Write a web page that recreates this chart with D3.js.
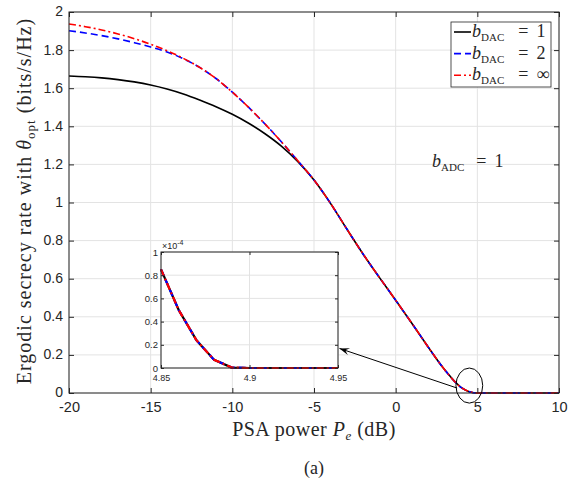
<!DOCTYPE html>
<html>
<head>
<meta charset="utf-8">
<title>Ergodic secrecy rate vs PSA power</title>
<script src="https://d3js.org/d3.v7.min.js"></script>
<style>
  body { margin: 0; background: #fff; }
  .tick text { font-family: "Liberation Sans", Arial, sans-serif; fill: #262626; }
  .serif { font-family: "Liberation Serif", "DejaVu Serif", serif; fill: #262626; }
</style>
</head>
<body>
<div id="chart"></div>
<script>
// ---- values ----
const pe = [-20, -19, -18, -17, -16, -15, -14, -13, -12, -11, -10, -9, -8, -7, -6, -5,
            -4, -3, -2, -1, 0, 1, 2, 3, 4, 5, 6, 7, 8, 9, 10];
const rateDac1 = [1.664, 1.660, 1.654, 1.645, 1.633, 1.617, 1.596, 1.570, 1.538, 1.503, 1.463,
                  1.416, 1.361, 1.296, 1.216, 1.118, 0.997, 0.862, 0.730, 0.607, 0.487, 0.365,
                  0.240, 0.122, 0.030, 0, 0, 0, 0, 0, 0];
const rateDac2 = [1.902, 1.890, 1.876, 1.859, 1.839, 1.816, 1.790, 1.755, 1.709, 1.651, 1.579,
                  1.499, 1.412, 1.319, 1.220, 1.118, 0.997, 0.862, 0.730, 0.607, 0.487, 0.365,
                  0.240, 0.122, 0.030, 0, 0, 0, 0, 0, 0];
const rateDacInf = [1.937, 1.923, 1.906, 1.885, 1.860, 1.831, 1.797, 1.757, 1.709, 1.651, 1.579,
                    1.499, 1.412, 1.319, 1.220, 1.118, 0.997, 0.862, 0.730, 0.607, 0.487, 0.365,
                    0.240, 0.122, 0.030, 0, 0, 0, 0, 0, 0];
// zoomed region (values x 1e-4), all three curves coincide
const peZoom = [4.85, 4.86, 4.87, 4.88, 4.89, 4.90, 4.91, 4.92, 4.93, 4.94, 4.95];
const rateZoom = [0.85, 0.50, 0.24, 0.07, 0.004, 0, 0, 0, 0, 0, 0];

const xTicks = [-20, -15, -10, -5, 0, 5, 10];
const yTicks = [0, 0.2, 0.4, 0.6, 0.8, 1, 1.2, 1.4, 1.6, 1.8, 2];
const zoomXTicks = [4.85, 4.9, 4.95];
const zoomYTicks = [0, 0.2, 0.4, 0.6, 0.8, 1];
const dacLabels = ["1", "2", "\u221e"];

// ---- layout ----
const width = 581, height = 485;
const plot = { left: 69, right: 559, top: 12, bottom: 393 };
const inset = { left: 161, right: 338, top: 252, bottom: 368 };
const gridColor = "#e3e3e3", axisColor = "#262626";

const svg = d3.select("#chart").append("svg")
  .attr("width", width).attr("height", height)
  .style("display", "block");

const x = d3.scaleLinear().domain([-20, 10]).range([plot.left, plot.right]);
const y = d3.scaleLinear().domain([0, 2]).range([plot.bottom, plot.top]);

// grid
const grid = svg.append("g");
grid.selectAll(".gx").data(xTicks).join("line")
  .attr("x1", d => x(d)).attr("x2", d => x(d))
  .attr("y1", plot.top).attr("y2", plot.bottom)
  .attr("stroke", gridColor);
grid.selectAll(".gy").data(yTicks).join("line")
  .attr("x1", plot.left).attr("x2", plot.right)
  .attr("y1", d => y(d)).attr("y2", d => y(d))
  .attr("stroke", gridColor);

// curves
const series = [
  { values: rateDac1, color: "#000000", dash: null, label: dacLabels[0] },
  { values: rateDac2, color: "#0000ff", dash: "7,4", label: dacLabels[1] },
  { values: rateDacInf, color: "#ff0000", dash: "7,3,2,3", label: dacLabels[2] }
];
const line = d3.line().x(d => x(d[0])).y(d => y(d[1])).curve(d3.curveMonotoneX);
svg.append("g").selectAll("path").data(series).join("path")
  .attr("d", s => line(pe.map((p, i) => [p, s.values[i]])))
  .attr("fill", "none")
  .attr("stroke", s => s.color)
  .attr("stroke-width", 1.6)
  .attr("stroke-dasharray", s => s.dash);

// axes (ticks inside, box on)
const fmt = d => String(d);
svg.append("g").attr("transform", `translate(0,${plot.bottom})`)
  .call(d3.axisBottom(x).tickValues(xTicks).tickSize(-5).tickPadding(10).tickFormat(fmt))
  .call(g => g.select(".domain").remove())
  .call(g => g.selectAll("text").attr("font-size", 14.5).attr("dy", "0.6em"));
svg.append("g").attr("transform", `translate(0,${plot.top})`)
  .call(d3.axisTop(x).tickValues(xTicks).tickSize(-5).tickFormat(""))
  .call(g => g.select(".domain").remove());
svg.append("g").attr("transform", `translate(${plot.left},0)`)
  .call(d3.axisLeft(y).tickValues(yTicks).tickSize(-5).tickPadding(6).tickFormat(fmt))
  .call(g => g.select(".domain").remove())
  .call(g => g.selectAll("text").attr("font-size", 14).attr("dy", "0.28em"));
svg.append("g").attr("transform", `translate(${plot.right},0)`)
  .call(d3.axisRight(y).tickValues(yTicks).tickSize(-5).tickFormat(""))
  .call(g => g.select(".domain").remove());
svg.selectAll(".tick line").attr("stroke", axisColor);
svg.append("rect")
  .attr("x", plot.left).attr("y", plot.top)
  .attr("width", plot.right - plot.left).attr("height", plot.bottom - plot.top)
  .attr("fill", "none").attr("stroke", axisColor).attr("stroke-width", 1);

// helper for LaTeX-like labels
function richText(sel, parts) {
  parts.forEach(p => {
    const t = sel.append("tspan").text(p.t);
    if (p.it) t.attr("font-style", "italic");
    if (p.sub) t.attr("font-size", p.sub);
    if (p.dy) t.attr("dy", p.dy);
    if (p.dx) t.attr("dx", p.dx);
  });
  return sel;
}

// axis labels
richText(svg.append("text").attr("class", "serif")
  .attr("x", (plot.left + plot.right) / 2).attr("y", 436)
  .attr("text-anchor", "middle").attr("font-size", 20).attr("letter-spacing", 0.5), [
  { t: "PSA power " }, { t: "P", it: true }, { t: "e", it: true, sub: 13, dy: 4 },
  { t: " (dB)", dy: -4 }
]);
richText(svg.append("text").attr("class", "serif")
  .attr("transform", "translate(31,201) rotate(-90)")
  .attr("text-anchor", "middle").attr("font-size", 20).attr("letter-spacing", 1), [
  { t: "Ergodic secrecy rate with " }, { t: "\u03b8", it: true },
  { t: "opt", sub: 13, dy: 4 }, { t: " (bits/s/Hz)", dy: -4 }
]);
svg.append("text").attr("class", "serif")
  .attr("x", (plot.left + plot.right) / 2).attr("y", 474)
  .attr("text-anchor", "middle").attr("font-size", 18).text("(a)");

// b_ADC annotation
richText(svg.append("text").attr("class", "serif")
  .attr("x", 432).attr("y", 167).attr("font-size", 18), [
  { t: "b", it: true }, { t: "ADC", sub: 11, dy: 4 },
  { t: "=", dy: -4, dx: 12 }, { t: "1", dx: 8 }
]);

// legend
const lg = svg.append("g");
lg.append("rect").attr("x", 451).attr("y", 22).attr("width", 100).attr("height", 65)
  .attr("fill", "#fff").attr("stroke", axisColor).attr("stroke-width", 0.8);
series.forEach((s, i) => {
  const cy = 32 + i * 21.6;
  lg.append("line").attr("x1", 454).attr("x2", 471).attr("y1", cy).attr("y2", cy)
    .attr("stroke", s.color).attr("stroke-width", 1.6).attr("stroke-dasharray", s.dash);
  richText(lg.append("text").attr("class", "serif")
    .attr("x", 472).attr("y", cy + 5).attr("font-size", 18), [
    { t: "b", it: true }, { t: "DAC", sub: 11, dy: 4 },
    { t: "=", dy: -4, dx: 14 }, { t: s.label, dx: 8 }
  ]);
});

// ellipse + arrow to the inset (in data coordinates)
const zoomSpot = { pe: 4.51, rate: 0.039, dPe: 0.82, dRate: 0.092 };
svg.append("ellipse")
  .attr("cx", x(zoomSpot.pe)).attr("cy", y(zoomSpot.rate))
  .attr("rx", x(zoomSpot.pe + zoomSpot.dPe) - x(zoomSpot.pe))
  .attr("ry", y(zoomSpot.rate) - y(zoomSpot.rate + zoomSpot.dRate))
  .attr("fill", "none").attr("stroke", "#000").attr("stroke-width", 1);
const arrowFrom = [3.76, 0.026], arrowTo = [-3.44, 0.234];
const ax0 = x(arrowFrom[0]), ay0 = y(arrowFrom[1]), ax1 = x(arrowTo[0]), ay1 = y(arrowTo[1]);
const ang = Math.atan2(ay1 - ay0, ax1 - ax0);
svg.append("line").attr("x1", ax0).attr("y1", ay0).attr("x2", ax1).attr("y2", ay1)
  .attr("stroke", "#000").attr("stroke-width", 1);
const hl = 10, hw = 3.5;
const bx = ax1 - hl * Math.cos(ang), by = ay1 - hl * Math.sin(ang);
svg.append("path")
  .attr("d", `M${ax1},${ay1}L${bx - hw * Math.sin(ang)},${by + hw * Math.cos(ang)}` +
             `L${ax1 - 0.6 * hl * Math.cos(ang)},${ay1 - 0.6 * hl * Math.sin(ang)}` +
             `L${bx + hw * Math.sin(ang)},${by - hw * Math.cos(ang)}Z`)
  .attr("fill", "#000");

// ---- inset ----
const ix = d3.scaleLinear().domain([4.85, 4.95]).range([inset.left, inset.right]);
const iy = d3.scaleLinear().domain([0, 1]).range([inset.bottom, inset.top]);
const ig = svg.append("g");
ig.append("rect").attr("x", inset.left).attr("y", inset.top)
  .attr("width", inset.right - inset.left).attr("height", inset.bottom - inset.top)
  .attr("fill", "#fff");
ig.selectAll(".igx").data(zoomXTicks).join("line")
  .attr("x1", d => ix(d)).attr("x2", d => ix(d)).attr("y1", inset.top).attr("y2", inset.bottom)
  .attr("stroke", gridColor);
ig.selectAll(".igy").data(zoomYTicks).join("line")
  .attr("x1", inset.left).attr("x2", inset.right).attr("y1", d => iy(d)).attr("y2", d => iy(d))
  .attr("stroke", gridColor);
const iline = d3.line().x(d => ix(d[0])).y(d => iy(d[1]));
const zoomPts = peZoom.map((p, i) => [p, rateZoom[i]]);
ig.selectAll(".icurve").data(series).join("path")
  .attr("d", iline(zoomPts))
  .attr("fill", "none")
  .attr("stroke", s => s.color)
  .attr("stroke-width", 2.2)
  .attr("stroke-dasharray", s => s.dash);
ig.append("g").attr("transform", `translate(0,${inset.bottom})`)
  .call(d3.axisBottom(ix).tickValues(zoomXTicks).tickSize(-3).tickPadding(7).tickFormat(fmt))
  .call(g => g.select(".domain").remove())
  .call(g => g.selectAll("text").attr("font-size", 9));
ig.append("g").attr("transform", `translate(0,${inset.top})`)
  .call(d3.axisTop(ix).tickValues(zoomXTicks).tickSize(-3).tickFormat(""))
  .call(g => g.select(".domain").remove());
ig.append("g").attr("transform", `translate(${inset.left},0)`)
  .call(d3.axisLeft(iy).tickValues(zoomYTicks).tickSize(-3).tickPadding(3).tickFormat(fmt))
  .call(g => g.select(".domain").remove())
  .call(g => g.selectAll("text").attr("font-size", 9.5));
ig.append("g").attr("transform", `translate(${inset.right},0)`)
  .call(d3.axisRight(iy).tickValues(zoomYTicks).tickSize(-3).tickFormat(""))
  .call(g => g.select(".domain").remove());
ig.selectAll(".tick line").attr("stroke", axisColor);
ig.append("rect").attr("x", inset.left).attr("y", inset.top)
  .attr("width", inset.right - inset.left).attr("height", inset.bottom - inset.top)
  .attr("fill", "none").attr("stroke", axisColor).attr("stroke-width", 1);
const expo = ig.append("text").attr("x", inset.left + 1).attr("y", inset.top - 3)
  .attr("font-family", "Liberation Sans, Arial, sans-serif").attr("font-size", 9).attr("fill", axisColor);
expo.append("tspan").text("\u00d710");
expo.append("tspan").attr("font-size", 7).attr("dy", -4).text("-4");
</script>
</body>
</html>
